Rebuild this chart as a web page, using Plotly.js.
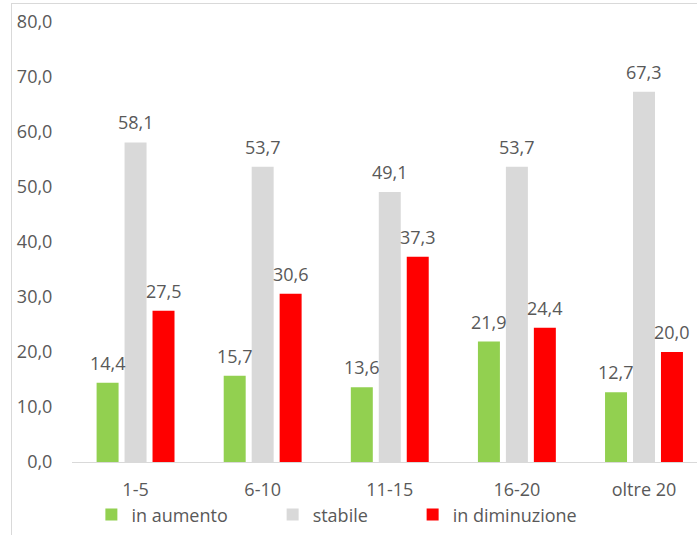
<!DOCTYPE html>
<html>
<head>
<meta charset="utf-8">
<script src="https://cdn.plot.ly/plotly-3.0.1.min.js"></script>
<style>
  html, body { margin: 0; padding: 0; background: #fff; overflow: hidden; }
  #chart { position: absolute; left: 0; top: 0; width: 697px; height: 535px; }
  #frame { position: absolute; left: 11px; top: 3px; width: 700px; height: 540px;
           border-left: 1px solid #d9d9d9; border-top: 1px solid #d9d9d9;
           pointer-events: none; z-index: 5; }
</style>
</head>
<body>
<div id="chart"></div>
<div id="frame"></div>
<script>
// ---- data ----
const categories = ["1-5", "6-10", "11-15", "16-20", "oltre 20"];
const seriesNames = ["in aumento", "stabile", "in diminuzione"];
const inAumento = [14.4, 15.7, 13.6, 21.9, 12.7];
const stabile = [58.1, 53.7, 49.1, 53.7, 67.3];
const inDiminuzione = [27.5, 30.6, 37.3, 24.4, 20.0];
const yTicks = [0, 10, 20, 30, 40, 50, 60, 70, 80];

// ---- styles ----
const colors = ["#92D050", "#D9D9D9", "#FF0000"];
const seriesValues = [inAumento, stabile, inDiminuzione];
const legendIds = ["legend", "legend2", "legend3"];
const legendX = [0.031, 0.321, 0.545];
const textColor = "#595959";
const fontFamily = "'Open Sans', sans-serif";
const fontSize = 18;

const W = 697, H = 535;
const margin = { l: 72, r: 0, t: 22, b: 73, pad: 0 };
const xRange = [-0.5, 4.417];
const bargap = 0.34;
const bargroupgap = 0.214;

const fmt = v => v.toFixed(1).replace(".", ",");

const traces = seriesValues.map((vals, i) => ({
  type: "bar",
  name: seriesNames[i],
  x: categories,
  y: vals,
  legend: legendIds[i],
  marker: { color: colors[i] },
  hoverinfo: "x+y+name"
}));

// label offsets derived from the bar layout
const plotW = W - margin.l - margin.r;
const pxPerCat = plotW / (xRange[1] - xRange[0]);
const slotPx = pxPerCat * (1 - bargap) / seriesValues.length;

const annotations = [];
seriesValues.forEach((vals, i) => {
  vals.forEach((v, j) => {
    annotations.push({
      x: categories[j], y: v, xref: "x", yref: "y",
      text: fmt(v), showarrow: false,
      xanchor: "center", yanchor: "bottom",
      xshift: (i - (seriesValues.length - 1) / 2) * slotPx,
      yshift: 6,
      font: { family: fontFamily, size: fontSize, color: textColor }
    });
  });
});

const layout = {
  width: W, height: H,
  margin: margin,
  paper_bgcolor: "rgba(0,0,0,0)",
  plot_bgcolor: "rgba(0,0,0,0)",
  separators: ",.",
  barmode: "group",
  bargap: bargap,
  bargroupgap: bargroupgap,
  font: { family: fontFamily, size: fontSize, color: textColor },
  showlegend: true,
  xaxis: {
    type: "category",
    range: xRange,
    showgrid: false,
    zeroline: false,
    showline: true,
    linecolor: "#D9D9D9",
    linewidth: 1,
    ticks: "outside",
    ticklen: 11,
    tickcolor: "rgba(0,0,0,0)",
    tickfont: { family: fontFamily, size: fontSize, color: textColor },
    fixedrange: true
  },
  yaxis: {
    range: [0, 80],
    tickvals: yTicks,
    ticktext: yTicks.map(fmt),
    showgrid: false,
    zeroline: false,
    showline: false,
    ticks: "outside",
    ticklen: 15,
    tickcolor: "rgba(0,0,0,0)",
    tickfont: { family: fontFamily, size: fontSize, color: textColor },
    fixedrange: true
  },
  annotations: annotations
};

legendIds.forEach((id, i) => {
  layout[id] = {
    orientation: "h",
    x: legendX[i], xanchor: "left",
    y: -0.12, yanchor: "middle",
    font: { family: fontFamily, size: fontSize, color: textColor },
    bgcolor: "rgba(0,0,0,0)"
  };
});

Plotly.newPlot("chart", traces, layout, { displayModeBar: false, staticPlot: true });
</script>
</body>
</html>
